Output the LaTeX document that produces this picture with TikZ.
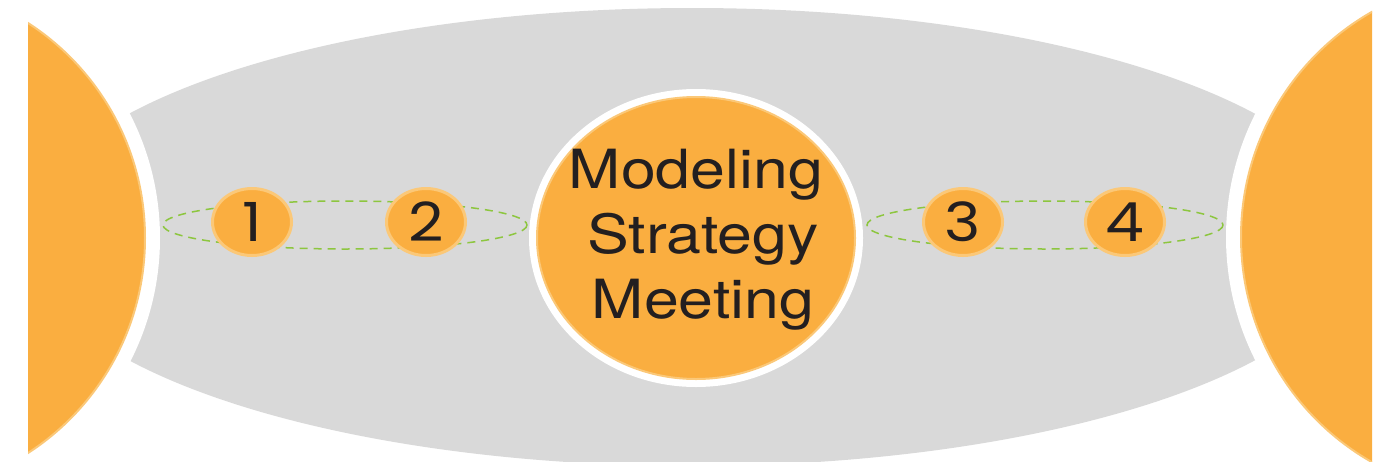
\documentclass[tikz,border=0pt]{standalone}
\usepackage{fontspec}
\setmainfont{TeX Gyre Heros}
\newfontfamily\numfont{Poppins}
\usetikzlibrary{shapes.geometric}
\definecolor{disc}{HTML}{FAAE40}
\definecolor{rim}{HTML}{FBC878}
\definecolor{pane}{HTML}{D9D9D9}
\definecolor{orbitgreen}{HTML}{8DC63F}
\definecolor{ink}{HTML}{231F20}

\begin{document}
\begin{tikzpicture}[x=1pt, y=-1pt,
                num/.style={ellipse, fill=disc, draw=rim, line width=3pt, minimum width=79pt, minimum height=67pt, inner sep=0pt, text=ink, font=\numfont\fontsize{54}{60}\selectfont},
                hub/.style={ellipse, fill=disc, draw=rim, line width=2pt, minimum width=318pt, minimum height=282pt, preaction={draw=white, line width=16pt}},
                orbit/.style={draw=orbitgreen, line width=1.5pt, dash pattern=on 8pt off 6pt}]
                \useasboundingbox (0,0) rectangle (1378,461);
                \begin{scope}
                \clip (28,-10) rectangle (1372,480);
                \fill[pane] (692,237) ellipse [x radius=668, y radius=229];
                \fill[white] (-111,238) circle (271);
                \fill[white] (1500,237) circle (274);
                \filldraw[fill=disc, draw=rim, line width=2pt] (-111,238) circle (256);
                \filldraw[fill=disc, draw=rim, line width=2pt] (1500,237) circle (259);
                \end{scope}
                \node[hub] (hub) at (696,238) {};
                \node[text=ink, align=center, inner sep=0pt, font=\fontsize{54}{65}\selectfont] (hubtext) at (703,240)
                    {\scalebox{1.16}[1]{Modeling}\hspace*{14pt}\\ \scalebox{1.16}[1]{Strategy}\\ \scalebox{1.16}[1]{Meeting}};
                \draw[orbit] (345,225) ellipse [x radius=182, y radius=24];
                \draw[orbit] (1045,225) ellipse [x radius=178, y radius=24];
                \node[num] (n1) at (252,222) {\scalebox{1.14}[1]{1}};
                \node[num] (n2) at (426,222) {\scalebox{1.14}[1]{2}};
                \node[num] (n3) at (963,222) {\scalebox{1.14}[1]{3}};
                \node[num] (n4) at (1125,222) {\scalebox{1.14}[1]{4}};
                \end{tikzpicture}
\end{document}
